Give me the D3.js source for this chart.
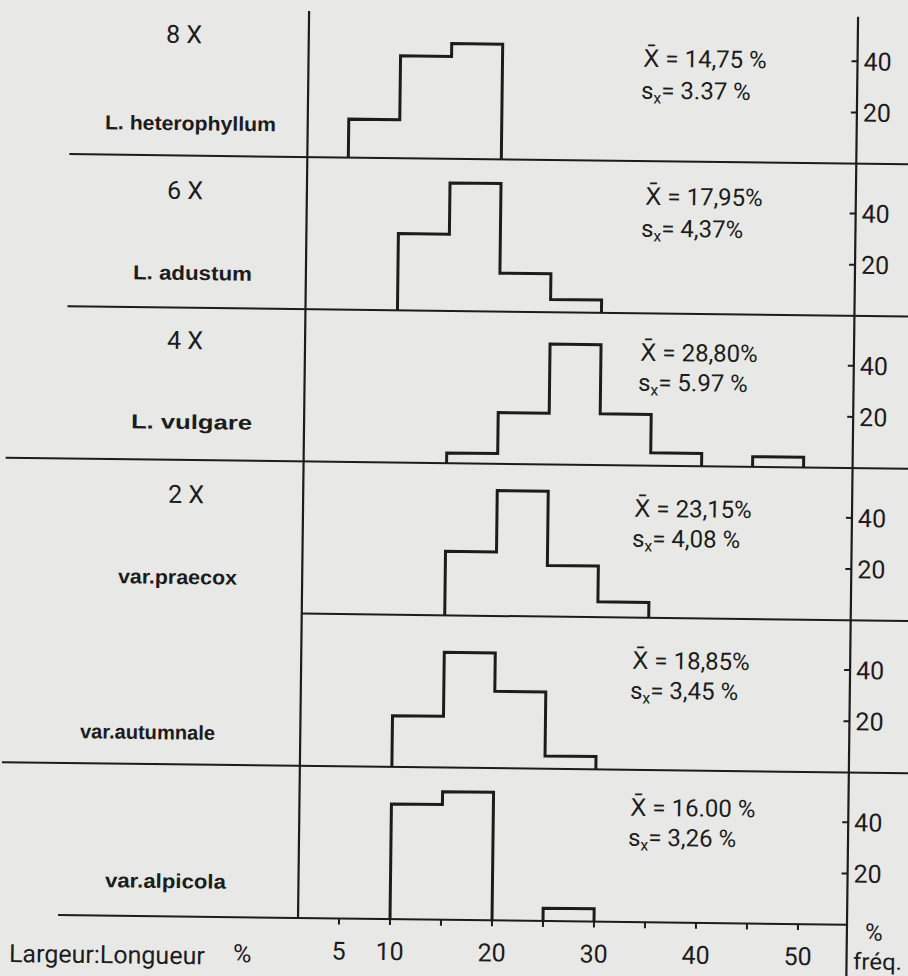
<!DOCTYPE html>
<html>
<head>
<meta charset="utf-8">
<script src="https://cdn.jsdelivr.net/npm/d3@7"></script>
<style>
  html, body { margin: 0; padding: 0; background: #e8e8e6; }
  svg { display: block; }
</style>
</head>
<body>
<svg id="chart" width="908" height="976"></svg>
<script>
// ---------------- DATA ----------------
const binStarts = [5, 10, 15, 20, 25, 30, 35, 40, 45];
const binWidth = 5;

const ploidyLabels = ["8 X", "6 X", "4 X", "2 X", "", ""];
const taxonLabels = ["L. heterophyllum", "L. adustum", "L. vulgare", "var.praecox", "var.autumnale", "var.alpicola"];
const meanLabels = ["14,75 %", "17,95%", "28,80%", "23,15%", "18,85%", "16.00 %"];
const sdLabels = ["3.37 %", "4,37%", "5.97 %", "4,08 %", "3,45 %", "3,26 %"];

// frequency (%) per class of Largeur:Longueur ratio
const freqHeterophyllum = [15, 40, 45, 0, 0, 0, 0, 0, 0];
const freqAdustum       = [0, 30, 50, 15, 5, 0, 0, 0, 0];
const freqVulgare       = [0, 0, 4, 20, 47, 20, 5, 0, 4];
const freqPraecox       = [0, 0, 25, 49, 20, 6, 0, 0, 0];
const freqAutumnale     = [0, 20, 45, 30, 5, 0, 0, 0, 0];
const freqAlpicola      = [0, 45, 50, 0, 5, 0, 0, 0, 0];

const xTickLabels = [5, 10, 20, 30, 40, 50];
const xTickMarks = [5, 10, 15, 20, 25, 30, 35, 40, 45, 50];
const yTickValues = [20, 40];

const xAxisTitle = "Largeur:Longueur";
const freqTitle = ["%", "fréq."];

// ---------------- LAYOUT ----------------
const series = [freqHeterophyllum, freqAdustum, freqVulgare, freqPraecox, freqAutumnale, freqAlpicola];
const ink = "#1c1c1c";
const angle = 0.7;              // scan tilt, degrees
const cx0 = 300, cy0 = 920;     // tilt pivot
const th = angle * Math.PI / 180;
function unrot(X, Y) {
  return [
    cx0 + (X - cx0) * Math.cos(th) + (Y - cy0) * Math.sin(th),
    cy0 - (X - cx0) * Math.sin(th) + (Y - cy0) * Math.cos(th)
  ];
}

const leftAxisX = 298, rightAxisX = 847;
const panelBase = i => 157 + 152.2 * i;
const sepStart = [60, 60, 0, leftAxisX, 0];

const ploidyPos = [[184, 34], [185, 190], [185, 340], [186, 494]];
const taxonPos = [[105, 276, 122], [133, 252, 272], [131, 252, 421], [118, 237, 576], [80, 215, 731], [105, 226, 880]];
const statPos = [
  [[643, 58], [641, 90]],
  [[645, 196], [641, 228]],
  [[640, 352], [638, 382]],
  [[634, 508], [632, 538]],
  [[632, 660], [630, 690]],
  [[630, 807], [628, 837]]
];

const svg = d3.select("#chart");
svg.append("rect").attr("width", 908).attr("height", 976).attr("fill", "#e8e8e6");
const g = svg.append("g").attr("transform", `rotate(${angle},${cx0},${cy0})`);

const x = d3.scaleLinear().domain([0, 50]).range([288, 798]);
const numFont = "Roboto, 'DejaVu Sans', sans-serif";

// left and right vertical axes
g.append("line").attr("x1", leftAxisX).attr("x2", leftAxisX).attr("y1", 11).attr("y2", panelBase(5))
  .attr("stroke", ink).attr("stroke-width", 2.2);
g.append("line").attr("x1", rightAxisX).attr("x2", rightAxisX).attr("y1", 10).attr("y2", 990)
  .attr("stroke", ink).attr("stroke-width", 2.2);

const line = d3.line();

series.forEach((vals, i) => {
  const base = panelBase(i);
  const y = d3.scaleLinear().domain([0, 40]).range([base, base - 102.4]);

  // separator / baseline
  if (i < 5) {
    g.append("line").attr("x1", sepStart[i]).attr("x2", 920).attr("y1", base).attr("y2", base)
      .attr("stroke", ink).attr("stroke-width", 2);
  } else {
    g.append("line").attr("x1", 58).attr("x2", rightAxisX).attr("y1", base).attr("y2", base)
      .attr("stroke", ink).attr("stroke-width", 2);
  }

  // histogram outlines (contiguous runs of non-zero classes)
  const runs = [];
  let cur = null;
  vals.forEach((v, k) => {
    if (v > 0) {
      if (!cur) { cur = []; runs.push(cur); }
      cur.push({ x0: binStarts[k], x1: binStarts[k] + binWidth, v });
    } else cur = null;
  });
  runs.forEach(r => {
    const pts = [[x(r[0].x0), y(0)]];
    r.forEach(b => { pts.push([x(b.x0), y(b.v)]); pts.push([x(b.x1), y(b.v)]); });
    pts.push([x(r[r.length - 1].x1), y(0)]);
    g.append("path").attr("d", line(pts)).attr("fill", "none")
      .attr("stroke", ink).attr("stroke-width", 3).attr("stroke-linejoin", "miter");
  });

  // right frequency axis ticks
  yTickValues.forEach(t => {
    g.append("line").attr("x1", rightAxisX - 6).attr("x2", rightAxisX).attr("y1", y(t)).attr("y2", y(t))
      .attr("stroke", ink).attr("stroke-width", 2);
    g.append("text").attr("x", rightAxisX + 6).attr("y", y(t)).attr("dy", "0.36em")
      .attr("font-family", numFont).attr("font-size", 25).attr("fill", ink).text(t);
  });

  // ploidy label
  if (ploidyLabels[i]) {
    const p = unrot(ploidyPos[i][0], ploidyPos[i][1]);
    g.append("text").attr("x", p[0]).attr("y", p[1]).attr("dy", "0.36em").attr("text-anchor", "middle")
      .attr("font-family", numFont).attr("font-size", 25).attr("fill", ink).text(ploidyLabels[i]);
  }

  // taxon label
  const tp = taxonPos[i];
  const tq = unrot(tp[0], tp[2]);
  g.append("text").attr("x", tq[0]).attr("y", tq[1]).attr("dy", "0.36em")
    .attr("font-family", "'Liberation Sans', Arial, sans-serif").attr("font-weight", "bold")
    .attr("font-size", 20).attr("fill", ink)
    .attr("textLength", tp[1] - tp[0]).attr("lengthAdjust", "spacingAndGlyphs")
    .text(taxonLabels[i]);

  // statistics
  const m = unrot(statPos[i][0][0], statPos[i][0][1]);
  g.append("text").attr("x", m[0]).attr("y", m[1]).attr("dy", "0.36em")
    .attr("font-family", numFont).attr("font-size", 24).attr("fill", ink)
    .text("X\u0304 = " + meanLabels[i]);
  const s = unrot(statPos[i][1][0], statPos[i][1][1]);
  const st = g.append("text").attr("x", s[0]).attr("y", s[1]).attr("dy", "0.36em")
    .attr("font-family", numFont).attr("font-size", 24).attr("fill", ink);
  st.append("tspan").text("s");
  st.append("tspan").attr("font-size", 16).attr("dy", "0.3em").text("x");
  st.append("tspan").attr("dy", "-0.2em").text("= " + sdLabels[i]);
});

// bottom x axis ticks and labels
const base5 = panelBase(5);
xTickMarks.forEach(t => {
  g.append("line").attr("x1", x(t)).attr("x2", x(t)).attr("y1", base5).attr("y2", base5 + 6)
    .attr("stroke", ink).attr("stroke-width", 2);
});
xTickLabels.forEach(t => {
  g.append("text").attr("x", x(t)).attr("y", 950).attr("dy", "0.36em").attr("text-anchor", "middle")
    .attr("font-family", numFont).attr("font-size", 25).attr("fill", ink).text(t);
});

// axis titles
const at = unrot(9, 953);
g.append("text").attr("x", at[0]).attr("y", at[1]).attr("dy", "0.36em")
  .attr("font-family", numFont).attr("font-size", 25).attr("fill", ink).text(xAxisTitle);
const ap = unrot(233, 953);
g.append("text").attr("x", ap[0]).attr("y", ap[1]).attr("dy", "0.36em")
  .attr("font-family", numFont).attr("font-size", 25).attr("fill", ink).text("%");
const f1 = unrot(874, 932);
g.append("text").attr("x", f1[0]).attr("y", f1[1]).attr("dy", "0.36em").attr("text-anchor", "middle")
  .attr("font-family", numFont).attr("font-size", 24).attr("fill", ink).text(freqTitle[0]);
const f2 = unrot(853, 961);
g.append("text").attr("x", f2[0]).attr("y", f2[1]).attr("dy", "0.36em")
  .attr("font-family", numFont).attr("font-size", 23).attr("fill", ink)
  .attr("textLength", 49).attr("lengthAdjust", "spacingAndGlyphs").text(freqTitle[1]);
</script>
</body>
</html>
